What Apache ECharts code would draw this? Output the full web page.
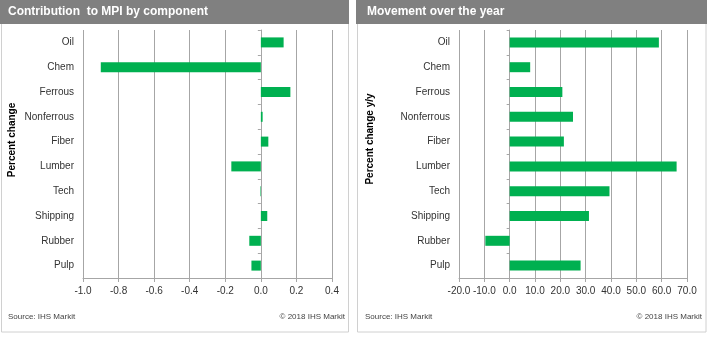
<!DOCTYPE html>
<html>
<head>
<meta charset="utf-8">
<script src="https://cdn.jsdelivr.net/npm/echarts@6/dist/echarts.min.js"></script>
<style>
html,body{margin:0;padding:0;background:#fff;}
#c{width:711px;height:340px;}
</style>
</head>
<body>
<div id="c"></div>
<script>
const categories = ['Oil','Chem','Ferrous','Nonferrous','Fiber','Lumber','Tech','Shipping','Rubber','Pulp'];
const contribution = [0.128, -0.90, 0.166, 0.01, 0.042, -0.166, -0.003, 0.036, -0.065, -0.053];
const movement = [58.9, 8.1, 20.8, 25.0, 21.4, 65.9, 39.4, 31.3, -9.6, 28.0];
const leftTitle = 'Contribution  to MPI by component';
const rightTitle = 'Movement over the year';
const leftAxisTitle = 'Percent change';
const rightAxisTitle = 'Percent change y/y';
const sourceText = 'Source: IHS Markit';
const copyText = '\u00a9 2018 IHS Markit';

const FONT = 'Liberation Sans, Arial, sans-serif';
const GREEN = '#00b050';
const GRID = '#a6a6a6';
const LABEL = '#333';

function xAxisCfg(grid, min, max, interval) {
  return {
    type: 'value', gridIndex: grid, min: min, max: max, interval: interval,
    axisLine: {show: true, onZero: false, lineStyle: {color: GRID}},
    axisTick: {show: true, length: 4, lineStyle: {color: GRID}},
    splitLine: {show: true, lineStyle: {color: GRID, width: 1}},
    axisLabel: {color: LABEL, fontFamily: FONT, fontSize: 10, margin: 8,
      formatter: v => Number(v).toFixed(1)}
  };
}
function yLabelAxis(grid) {
  return {
    type: 'category', gridIndex: grid, data: categories, inverse: true,
    axisLine: {show: false, onZero: false}, axisTick: {show: false}, splitLine: {show: false},
    axisLabel: {color: LABEL, fontFamily: FONT, fontSize: 10, margin: 9}
  };
}
function yZeroAxis(grid) {
  return {
    type: 'category', gridIndex: grid, data: categories, inverse: true, position: 'left',
    axisLine: {show: true, onZero: true, onZeroAxisIndex: grid, lineStyle: {color: GRID}},
    axisTick: {show: true, length: 3, inside: false, lineStyle: {color: GRID}},
    axisLabel: {show: false}, splitLine: {show: false}
  };
}
function bar(xi, yi, data) {
  return {
    type: 'bar', xAxisIndex: xi, yAxisIndex: yi, data: data, barWidth: 10,
    itemStyle: {color: GREEN}, silent: true, animation: false
  };
}

const chart = echarts.init(document.getElementById('c'), null, {renderer: 'canvas'});
chart.setOption({
  animation: false,
  backgroundColor: '#fff',
  grid: [
    {left: 83, right: 379, top: 30, bottom: 62, containLabel: false},
    {left: 459, right: 24, top: 30, bottom: 62, containLabel: false}
  ],
  xAxis: [xAxisCfg(0, -1, 0.4, 0.2), xAxisCfg(1, -20, 70, 10)],
  yAxis: [yLabelAxis(0), yZeroAxis(0), yLabelAxis(1), yZeroAxis(1)],
  series: [bar(0, 1, contribution), bar(1, 3, movement)],
  graphic: [
    {type: 'rect', z: -10, shape: {x: 1.5, y: 1, width: 347, height: 331}, style: {fill: '#fff', stroke: '#d0d0d0', lineWidth: 1}},
    {type: 'rect', z: -10, shape: {x: 357.5, y: 1, width: 348.5, height: 331}, style: {fill: '#fff', stroke: '#d0d0d0', lineWidth: 1}},
    {type: 'rect', z: -5, shape: {x: 0, y: 0, width: 349, height: 24}, style: {fill: '#808080'}},
    {type: 'rect', z: -5, shape: {x: 356, y: 0, width: 351, height: 24}, style: {fill: '#808080'}},
    {type: 'text', x: 8, y: 12, style: {text: leftTitle, fill: '#fff', font: 'bold 12px ' + FONT, textVerticalAlign: 'middle'}},
    {type: 'text', x: 367, y: 12, style: {text: rightTitle, fill: '#fff', font: 'bold 12px ' + FONT, textVerticalAlign: 'middle'}},
    {type: 'text', x: 12, y: 140, rotation: Math.PI / 2, style: {text: leftAxisTitle, fill: '#000', font: 'bold 10px ' + FONT, textAlign: 'center', textVerticalAlign: 'middle'}},
    {type: 'text', x: 370, y: 139, rotation: Math.PI / 2, style: {text: rightAxisTitle, fill: '#000', font: 'bold 10px ' + FONT, textAlign: 'center', textVerticalAlign: 'middle'}},
    {type: 'text', x: 8, y: 317, style: {text: sourceText, fill: '#444', font: '8px ' + FONT, textVerticalAlign: 'middle'}},
    {type: 'text', x: 345, y: 317, style: {text: copyText, fill: '#444', font: '8px ' + FONT, textAlign: 'right', textVerticalAlign: 'middle'}},
    {type: 'text', x: 365, y: 317, style: {text: sourceText, fill: '#444', font: '8px ' + FONT, textVerticalAlign: 'middle'}},
    {type: 'text', x: 702, y: 317, style: {text: copyText, fill: '#444', font: '8px ' + FONT, textAlign: 'right', textVerticalAlign: 'middle'}}
  ]
});
</script>
</body>
</html>
